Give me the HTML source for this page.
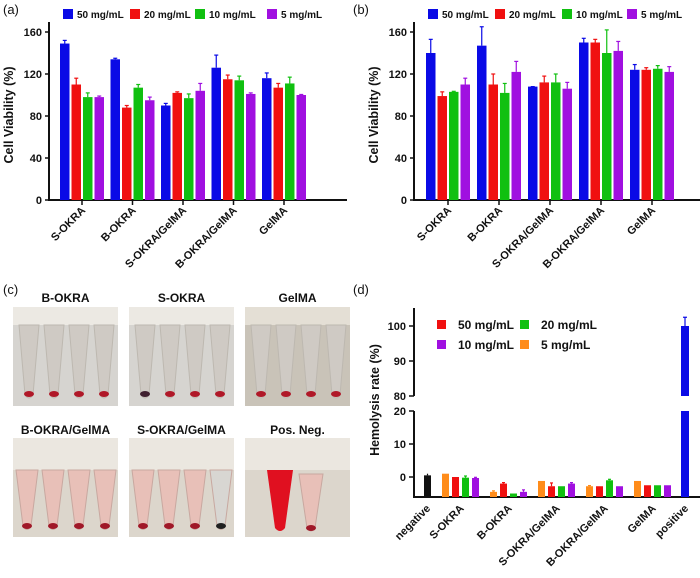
<!DOCTYPE html>
<html><head><meta charset="utf-8"><style>
body{margin:0;background:#fff}
svg{display:block;font-family:"Liberation Sans",Arial,sans-serif}
text{font-weight:bold;fill:#111}
</style></head><body>
<svg id="fig" width="700" height="578" viewBox="0 0 700 578">
<text x="3" y="14" style="font-weight:normal" font-size="13">(a)</text>
<text x="353" y="14" style="font-weight:normal" font-size="13">(b)</text>
<text x="3" y="294" style="font-weight:normal" font-size="13">(c)</text>
<text x="353" y="294" style="font-weight:normal" font-size="13">(d)</text>
<g id="photos"></g>
</svg>
<script>
const categories=["S-OKRA","B-OKRA","S-OKRA/GelMA","B-OKRA/GelMA","GelMA"];
const seriesNames=["50 mg/mL","20 mg/mL","10 mg/mL","5 mg/mL"];
const yTicks=[0,40,80,120,160];
const aVals=[[149,134,90,126,116],[110,88,102,115,107],[98,107,97,114,111],[98,95,104,101,100]];
const aErr=[[3,1,2,12,5],[6,2,1,4,4],[4,3,4,4,6],[1,3,7,1,0.5]];
const bVals=[[140,147,108,150,124],[99,110,112,150,124],[103,102,112,140,125],[110,122,106,142,122]];
const bErr=[[13,18,0,4,5],[4,10,6,3,2],[0.5,9,8,22,3],[6,10,6,9,5]];
const dCats=["negative","S-OKRA","B-OKRA","S-OKRA/GelMA","B-OKRA/GelMA","GelMA","positive"];
const dSeries=["5 mg/mL","50 mg/mL","20 mg/mL","10 mg/mL"];
const dVals=[[1,-4.5,-1.2,-2.8,-1.2],[0,-2,-2.8,-2.8,-2.5],[-0.2,-5,-2.8,-1,-2.5],[-0.3,-4.5,-2,-2.8,-2.5]];
const dErr=[[0,0.3,0,0.2,0],[0,0.3,1,0,0],[0.5,0,0,0.3,0],[0.2,0.6,0.3,0,0]];
const dNegative=0.5, dNegErr=0.5, dPositive=100, dPosErr=2.5;
const dLowTicks=[0,10,20], dHighTicks=[80,90,100];

const colors=["#0a0ae6","#f01010","#10c010","#a010e0"];
const dColors=["#ff8c1a","#f01010","#10c010","#a010e0"];
const NS="http://www.w3.org/2000/svg";
const svg=document.getElementById('fig');
function mk(tag,attrs,parent){const e=document.createElementNS(NS,tag);for(const k in attrs)e.setAttribute(k,attrs[k]);(parent||svg).appendChild(e);return e;}

function barPanel(id,ox,vals,errs,first,pitch,legX){
  const g=mk('g',{});
  
  
  const y0=200,y160=32;
  const ys=v=>y0-(v/160)*(y0-y160);
  const axEnd=ox+298;
  const xa=mk('line',{x1:ox,y1:y0,x2:axEnd,y2:y0,stroke:'#111','stroke-width':2},g);
  
  
  const ya=mk('line',{x1:ox,y1:y0+1,x2:ox,y2:22,stroke:'#111','stroke-width':2},g);
  
  
  yTicks.forEach(t=>{
    mk('line',{x1:ox-4,y1:ys(t),x2:ox,y2:ys(t),stroke:'#111','stroke-width':1.5},g);
    const tx=mk('text',{x:ox-7,y:ys(t)+4,'text-anchor':'end','font-size':11},g);
    tx.textContent=t;
    
    
  });
  const ti=mk('text',{x:0,y:0,'text-anchor':'middle','font-size':12.5,transform:`translate(${ox-36},115) rotate(-90)`},g);
  ti.textContent='Cell Viability (%)';
  
  
  const bw=9.5,bp=11.5;
  categories.forEach((c,i)=>{
    const gx=first+i*pitch;
    const cx=gx+(bp*3+bw)/2;
    mk('line',{x1:cx,y1:y0,x2:cx,y2:y0+5,stroke:'#111','stroke-width':1.5},g);
    const lt=mk('text',{x:0,y:0,'text-anchor':'end','font-size':11,transform:`translate(${cx+4},${y0+11}) rotate(-45)`},g);
    lt.textContent=c;
    
    
    for(let s=0;s<4;s++){
      const v=vals[s][i],e=errs[s][i],x=gx+s*bp;
      const r=mk('rect',{x:x,y:ys(v),width:bw,height:y0-ys(v),fill:colors[s]},g);
      
      
      mk('line',{x1:x+bw/2,y1:ys(v),x2:x+bw/2,y2:ys(v+e),stroke:colors[s],'stroke-width':1.2},g);
      mk('line',{x1:x+bw/2-2,y1:ys(v+e),x2:x+bw/2+2,y2:ys(v+e),stroke:colors[s],'stroke-width':1.2},g);
    }
  });
  seriesNames.forEach((n,s)=>{
    const lx=legX[s];
    const sq=mk('rect',{x:lx,y:9,width:10,height:10,fill:colors[s]},g);
    
    
    const t=mk('text',{x:lx+14,y:18,'font-size':10},g);
    t.textContent=n;
    
    
  });
}
barPanel('panel-a',49,aVals,aErr,60,50.5,[63,130,195,267]);
barPanel('panel-b',414,bVals,bErr,426,51,[428,495,562,627]);

// panel d
(function(){
  const g=mk('g',{});
  
  
  const ox=414, yb=497;
  const yl=v=>477-v*3.3;
  const yh=v=>396-(v-80)*3.5;
  const ya1=mk('line',{x1:ox,y1:yb+1,x2:ox,y2:yl(20),stroke:'#111','stroke-width':2},g);
  
  
  const ya2=mk('line',{x1:ox,y1:yh(80),x2:ox,y2:308,stroke:'#111','stroke-width':2},g);
  
  
  const xa=mk('line',{x1:ox,y1:yb,x2:700,y2:yb,stroke:'#111','stroke-width':2},g);
  
  
  dLowTicks.forEach(t=>{
    mk('line',{x1:ox-5,y1:yl(t),x2:ox,y2:yl(t),stroke:'#111','stroke-width':1.5},g);
    const tx=mk('text',{x:ox-8,y:yl(t)+4,'text-anchor':'end','font-size':11},g);
    tx.textContent=t;
    
    
  });
  dHighTicks.forEach(t=>{
    mk('line',{x1:ox-5,y1:yh(t),x2:ox,y2:yh(t),stroke:'#111','stroke-width':1.5},g);
    const tx=mk('text',{x:ox-8,y:yh(t)+4,'text-anchor':'end','font-size':11},g);
    tx.textContent=t;
    
    
  });
  const ti=mk('text',{x:0,y:0,'text-anchor':'middle','font-size':12.5,transform:'translate(379,400) rotate(-90)'},g);
  ti.textContent='Hemolysis rate (%)';
  
  
  const bw=7,bp=10;
  const centers=[427];
  const nb=mk('rect',{x:424,y:yl(dNegative),width:bw,height:yb-yl(dNegative),fill:'#111'},g);
  
  
  mk('line',{x1:427.5,y1:yl(dNegative),x2:427.5,y2:yl(dNegative+dNegErr),stroke:'#111','stroke-width':1.2},g);
  for(let i=0;i<5;i++){
    const gx=442+i*48;
    centers.push(gx+(bp*3+bw)/2);
    for(let s=0;s<4;s++){
      const v=dVals[s][i],e=dErr[s][i],x=gx+s*bp;
      const top=yl(v);
      const r=mk('rect',{x:x,y:top,width:bw,height:yb-top,fill:dColors[s]},g);
      
      
      if(e>0){
        mk('line',{x1:x+bw/2,y1:top,x2:x+bw/2,y2:yl(v+e),stroke:dColors[s],'stroke-width':1.2},g);
        mk('line',{x1:x+bw/2-1.5,y1:yl(v+e),x2:x+bw/2+1.5,y2:yl(v+e),stroke:dColors[s],'stroke-width':1.2},g);
      }
    }
  }
  centers.push(685);
  const pb1=mk('rect',{x:681,y:yl(20),width:8,height:yb-yl(20),fill:'#0a0ae6'},g);
  
  
  const pb2=mk('rect',{x:681,y:yh(dPositive),width:8,height:yh(80)-yh(dPositive),fill:'#0a0ae6'},g);
  
  
  mk('line',{x1:685,y1:yh(dPositive),x2:685,y2:yh(dPositive+dPosErr),stroke:'#0a0ae6','stroke-width':1.2},g);
  mk('line',{x1:683,y1:yh(dPositive+dPosErr),x2:687,y2:yh(dPositive+dPosErr),stroke:'#0a0ae6','stroke-width':1.2},g);
  dCats.forEach((c,i)=>{
    const lt=mk('text',{x:0,y:0,'text-anchor':'end','font-size':11,transform:`translate(${centers[i]+4},${yb+12}) rotate(-45)`},g);
    lt.textContent=c;
    
    
  });
  const leg=[["50 mg/mL","#f01010",437,325],["20 mg/mL","#10c010",520,325],["10 mg/mL","#a010e0",437,345],["5 mg/mL","#ff8c1a",520,345]];
  leg.forEach(l=>{
    const sq=mk('rect',{x:l[2],y:l[3]-5,width:9,height:9,fill:l[1]},g);
    
    
    const t=mk('text',{x:l[2]+21,y:l[3]+4,'font-size':12},g);
    t.textContent=l[0];
    
    
  });
})();

// panel c photos
(function(){
  const P=document.getElementById('photos');
  const titles=["B-OKRA","S-OKRA","GelMA","B-OKRA/GelMA","S-OKRA/GelMA","Pos. Neg."];
  const xs=[13,129,245];
  titles.forEach((t,i)=>{
    const col=i%3,row=Math.floor(i/3);
    const x=xs[col],y=row?438:307,w=105,h=99;
    const tt=mk('text',{x:x+w/2,y:row?434:302,'text-anchor':'middle','font-size':12},P);
    tt.textContent=t;
    
    
    const g=mk('g',{},P);
    
    
    if(row===0){
      mk('rect',{x:x,y:y,width:w,height:h,fill:col==2?'#c9c3b8':'#d6d4d0'},g);
      mk('rect',{x:x,y:y,width:w,height:18,fill:col==2?'#e4dfd5':'#ece9e3'},g);
      for(let k=0;k<4;k++){
        const tx=x+6+k*25;
        mk('path',{d:`M${tx} ${y+18} L${tx+20} ${y+18} L${tx+14} ${y+88} Q${tx+10} ${y+94} ${tx+6} ${y+88} Z`,fill:'#cfcac4',stroke:'#bdb8b0'},g);
        mk('ellipse',{cx:tx+10,cy:y+87,rx:5,ry:3,fill:(col==1&&k==0)?'#402030':'#b01828'},g);
      }
    } else {
      mk('rect',{x:x,y:y,width:w,height:h,fill:'#dcd6cc'},g);
      mk('rect',{x:x,y:y,width:w,height:32,fill:'#ebe7e0'},g);
      if(col<2){
        for(let k=0;k<4;k++){
          const tx=x+3+k*26;
          const fill=(col==1&&k==3)?'#d8d6d2':'#e8c0b8';
          mk('path',{d:`M${tx} ${y+32} L${tx+22} ${y+32} L${tx+15} ${y+88} Q${tx+11} ${y+95} ${tx+7} ${y+88} Z`,fill:fill,stroke:'#c8a8a0'},g);
          mk('ellipse',{cx:tx+11,cy:y+88,rx:5,ry:3,fill:(col==1&&k==3)?'#202020':'#a01828'},g);
        }
      } else {
        mk('path',{d:`M${x+22} ${y+32} L${x+48} ${y+32} L${x+40} ${y+90} Q${x+35} ${y+96} ${x+30} ${y+90} Z`,fill:'#e01020'},g);
        mk('path',{d:`M${x+54} ${y+36} L${x+78} ${y+36} L${x+70} ${y+90} Q${x+66} ${y+96} ${x+62} ${y+90} Z`,fill:'#e8c0b8',stroke:'#c8a8a0'},g);
        mk('ellipse',{cx:x+66,cy:y+90,rx:5,ry:3,fill:'#a01828'},g);
      }
    }
  });
})();
</script>
</body></html>
